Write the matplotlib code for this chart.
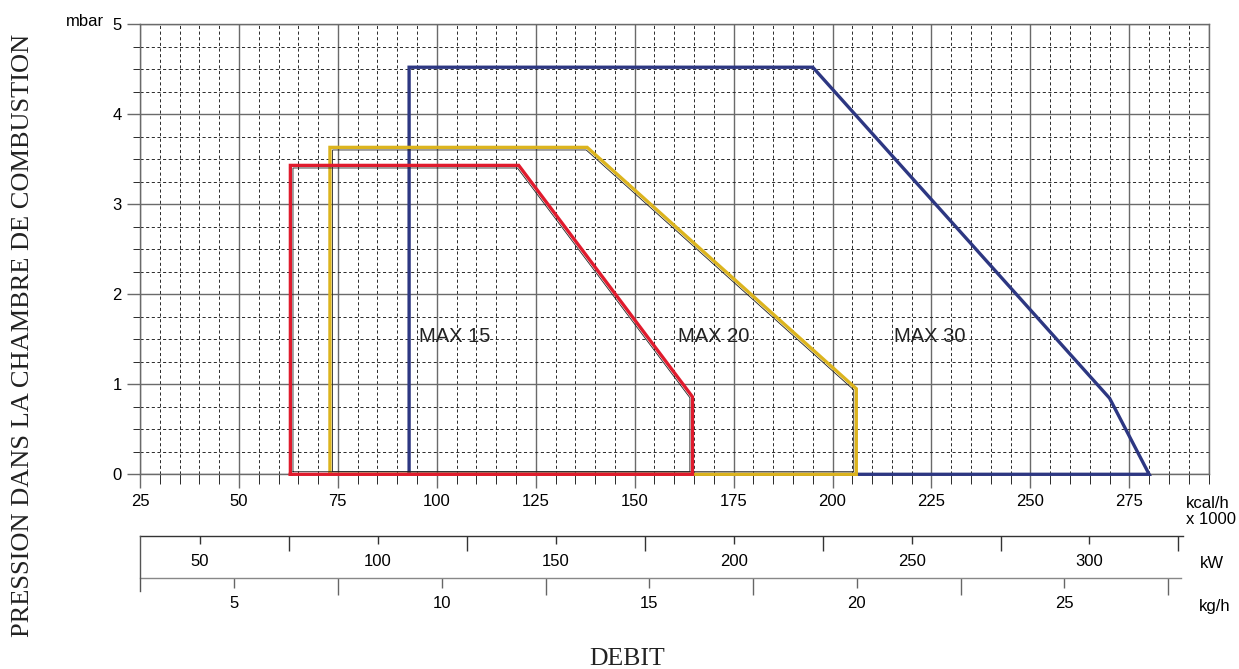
import numpy as np
import matplotlib
matplotlib.use("Agg")
import matplotlib.pyplot as plt
from matplotlib.lines import Line2D

# ---------------- data ----------------
kcal_major = [25, 50, 75, 100, 125, 150, 175, 200, 225, 250, 275]
pressure_major = [0, 1, 2, 3, 4, 5]

max15_x = [63, 63, 120.7, 164.6, 164.6]
max15_y = [0, 3.43, 3.43, 0.86, 0]
max20_x = [73, 73, 138, 206, 206]
max20_y = [0, 3.63, 3.63, 0.95, 0]
max30_x = [93, 93, 195, 270, 280]
max30_y = [0, 4.52, 4.52, 0.845, 0]

kw_labels = [50, 100, 150, 200, 250, 300]
kw_between = [75, 125, 175, 225, 275, 325]
kgh_labels = [5, 10, 15, 20, 25]
kgh_between = [7.5, 12.5, 17.5, 22.5, 27.5]

series_names = ["MAX 15", "MAX 20", "MAX 30"]

# ---------------- layout helpers ----------------
W, H = 1239, 669
fig = plt.figure(figsize=(W / 100, H / 100), dpi=100)
plt.rcParams["font.family"] = ["Liberation Sans", "DejaVu Sans"]

def fx(px):
    return px / W

def fy(py):
    return 1 - py / H

PT = 72 / 100  # points per pixel

RED = "#e01b2d"
YELLOW = "#dcb41e"
BLUE = "#2d3782"
GRID_MAJOR = "#6a6a6a"
GRID_MINOR = "#2a2a2a"

# ---------------- main axes ----------------
x0, x1, ytop, ybot = 140, 1208.5, 24, 474.3
ax = fig.add_axes([fx(x0), fy(ybot), (x1 - x0) / W, (ybot - ytop) / H])
ax.set_xlim(25, 295)
ax.set_ylim(0, 5)
ax.set_xticks(kcal_major)
ax.set_xticks(np.arange(25, 296, 5), minor=True)
ax.set_yticks(pressure_major)
ax.set_yticks(np.arange(0, 5.01, 0.25), minor=True)
ax.set_xticklabels([str(v) for v in kcal_major])
ax.set_yticklabels([str(v) for v in pressure_major])
ax.set_axisbelow(True)
ax.grid(which="major", color=GRID_MAJOR, lw=1.0, ls="-")
ax.grid(which="minor", color=GRID_MINOR, lw=0.7, ls=(0, (3.2, 2.6)))
for s in ax.spines.values():
    s.set_color(GRID_MAJOR)
    s.set_linewidth(1.0)

ax.tick_params(axis="x", which="major", length=14 * PT, width=1.0, color=GRID_MAJOR,
               pad=4.3, labelsize=12)
ax.tick_params(axis="x", which="minor", length=10 * PT, width=0.7, color=GRID_MINOR)
ax.tick_params(axis="y", which="major", length=13 * PT, width=1.0, color=GRID_MAJOR,
               pad=3.8, labelsize=12)
ax.tick_params(axis="y", which="minor", length=7 * PT, width=0.7, color=GRID_MINOR)
# right-most 295 line
ax.axvline(295, color=GRID_MAJOR, lw=1.0, zorder=1.5)

# ---------------- polygons ----------------
def inset_polygon(xs, ys, d):
    pts = ax.transData.transform(np.column_stack([xs, ys]))
    n = len(pts)
    area = 0.5 * np.sum(pts[:, 0] * np.roll(pts[:, 1], -1) - np.roll(pts[:, 0], -1) * pts[:, 1])
    sign = 1 if area > 0 else -1  # CCW -> interior to the left
    lines = []
    for i in range(n):
        p, q = pts[i], pts[(i + 1) % n]
        u = (q - p) / np.hypot(*(q - p))
        nrm = np.array([-u[1], u[0]]) * sign
        lines.append((p + nrm * d, u))
    out = []
    for i in range(n):
        (a, u), (b, v) = lines[i - 1], lines[i]
        M = np.array([[u[0], -v[0]], [u[1], -v[1]]])
        t = np.linalg.solve(M, b - a)
        out.append(a + t[0] * u)
    out = np.array(out)
    return ax.transData.inverted().transform(out)

def closed(a):
    return list(a) + [a[0]]

polys = [(max30_x, max30_y, BLUE, 3, False),
         (max20_x, max20_y, YELLOW, 4, True),
         (max15_x, max15_y, RED, 5, True)]
for xs, ys, col, z, inner in polys:
    ax.plot(closed(xs), closed(ys), color=col, lw=2.4, zorder=z, clip_on=False,
            solid_joinstyle="miter")
    if inner:
        ins = inset_polygon(xs, ys, 2.6)
        ax.plot(closed(list(ins[:, 0])), closed(list(ins[:, 1])), color="#222222",
                lw=0.6, zorder=z + 0.1, clip_on=False, solid_joinstyle="miter")

label_pos = [(95.4, 1.53), (161.0, 1.53), (215.5, 1.53)]
for name, (lx, ly) in zip(series_names, label_pos):
    ax.text(lx, ly, name, fontsize=14.5, ha="left", va="center", color="#222222", zorder=6)

# ---------------- kW axis ----------------
def kw_of(px):
    return 50 + (px - 200) / 3.558

kw_y = 535.5
axk = fig.add_axes([fx(140), fy(kw_y), (1183 - 140) / W, 0.0001])
axk.set_xlim(kw_of(140), kw_of(1183))
axk.set_yticks([])
for k in ["left", "right", "top"]:
    axk.spines[k].set_visible(False)
axk.spines["bottom"].set_color("#333333")
axk.spines["bottom"].set_linewidth(1.0)
axk.set_xticks(kw_labels)
axk.set_xticklabels([str(v) for v in kw_labels])
axk.set_xticks(kw_between, minor=True)
axk.tick_params(axis="x", which="major", length=8 * PT, width=1.0, color="#333333",
                pad=7.2, labelsize=12)
axk.tick_params(axis="x", which="minor", length=15 * PT, width=1.0, color="#333333")
axk.patch.set_visible(False)

# ---------------- kg/h axis ----------------
def kg_of(px):
    return 5 + (px - 234.3) / 41.5

kg_y = 578
axg = fig.add_axes([fx(140), fy(kg_y), (1181.3 - 140) / W, 0.0001])
axg.set_xlim(kg_of(140), kg_of(1181.3))
axg.set_yticks([])
for k in ["left", "right", "top"]:
    axg.spines[k].set_visible(False)
axg.spines["bottom"].set_color("#888888")
axg.spines["bottom"].set_linewidth(1.0)
axg.set_xticks(kgh_labels)
axg.set_xticklabels([str(v) for v in kgh_labels])
axg.set_xticks(kgh_between, minor=True)
axg.tick_params(axis="x", which="major", length=10 * PT, width=1.0, color="#666666",
                pad=6.1, labelsize=12)
axg.tick_params(axis="x", which="minor", length=17 * PT, width=1.0, color="#666666")
axg.patch.set_visible(False)

# left connector between the two lower scales
fig.add_artist(Line2D([fx(140), fx(140)], [fy(kw_y), fy(591)], color="#555555", lw=1.0))

# ---------------- texts ----------------
fig.text(fx(104), fy(21), "mbar", ha="right", va="center", fontsize=12)
fig.text(fx(1186), fy(496), "kcal/h\nx 1000", ha="left", va="top", fontsize=12,
         linespacing=1.1)
fig.text(fx(1199.5), fy(563), "kW", ha="left", va="center", fontsize=12)
fig.text(fx(1198.5), fy(606), "kg/h", ha="left", va="center", fontsize=12)
fig.text(fx(627.5), fy(659), "DEBIT", ha="center", va="center", fontsize=18.5,
         family=["Liberation Serif", "DejaVu Serif"], color="#222222")
fig.text(fx(23), fy(335), "PRESSION DANS LA CHAMBRE DE COMBUSTION", ha="center",
         va="center", rotation=90, fontsize=19,
         family=["Liberation Serif", "DejaVu Serif"], color="#222222")

fig.savefig("out.png", dpi=100)
